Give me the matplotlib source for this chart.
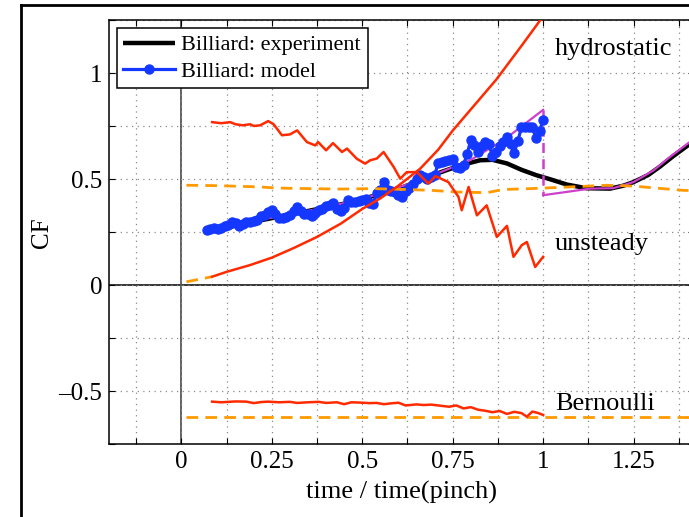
import matplotlib
matplotlib.use("Agg")
import matplotlib.pyplot as plt
from matplotlib.lines import Line2D

plt.rcParams["font.family"] = ["Liberation Serif", "DejaVu Serif"]
plt.rcParams["mathtext.fontset"] = "stix"

RED = "#FF2A00"
ORANGE = "#FF9A00"
BLUE = "#1438FF"
MAGENTA = "#CC40CC"

# --- force components (time normalised by pinch time) ---
hydro_t = [0.085, 0.125, 0.19, 0.25, 0.31, 0.375, 0.44, 0.5, 0.55, 0.60, 0.66, 0.71,
           0.75, 0.81, 0.87, 0.94, 1.0]
hydro_cf = [0.04, 0.063, 0.095, 0.13, 0.175, 0.228, 0.29, 0.36, 0.41, 0.47, 0.55, 0.64,
            0.73, 0.85, 0.97, 1.13, 1.27]
hydro_lead_t = [0.014, 0.085]
hydro_lead_cf = [0.016, 0.04]

unsteady_t = [0.085, 0.11, 0.135, 0.15, 0.17, 0.19, 0.20, 0.218, 0.24, 0.255, 0.278, 0.30,
              0.32, 0.347, 0.37, 0.378, 0.40, 0.419, 0.444, 0.458, 0.485, 0.508, 0.522,
              0.54, 0.559, 0.587, 0.605, 0.623, 0.651, 0.683, 0.702, 0.738, 0.766, 0.775,
              0.794, 0.817, 0.844, 0.872, 0.90, 0.918, 0.941, 0.955, 0.978, 1.0]
unsteady_cf = [0.77, 0.765, 0.77, 0.76, 0.755, 0.76, 0.752, 0.755, 0.775, 0.76, 0.708,
               0.712, 0.731, 0.676, 0.66, 0.676, 0.637, 0.671, 0.629, 0.645, 0.597, 0.574,
               0.59, 0.598, 0.629, 0.558, 0.503, 0.534, 0.534, 0.48, 0.515, 0.487, 0.417,
               0.354, 0.464, 0.33, 0.377, 0.228, 0.28, 0.134, 0.189, 0.204, 0.086, 0.134]

bern_t = [0.085, 0.11, 0.13, 0.15, 0.18, 0.2, 0.22, 0.24, 0.27, 0.3, 0.32, 0.35, 0.38,
          0.4, 0.43, 0.45, 0.47, 0.5, 0.52, 0.54, 0.56, 0.58, 0.6, 0.62, 0.65, 0.67, 0.69,
          0.72, 0.74, 0.76, 0.78, 0.8, 0.82, 0.84, 0.86, 0.88, 0.9, 0.92, 0.94, 0.955,
          0.97, 0.985, 1.0]
bern_cf = [-0.55, -0.553, -0.551, -0.549, -0.55, -0.557, -0.552, -0.55, -0.553, -0.551,
           -0.556, -0.553, -0.551, -0.556, -0.553, -0.562, -0.553, -0.555, -0.557, -0.556,
           -0.562, -0.558, -0.555, -0.568, -0.563, -0.566, -0.564, -0.57, -0.574, -0.568,
           -0.582, -0.576, -0.588, -0.593, -0.6, -0.594, -0.608, -0.598, -0.604, -0.621,
           -0.597, -0.603, -0.613]

base_t = [0.014, 0.1, 0.218, 0.26, 0.35, 0.44, 0.53, 0.62, 0.69, 0.76, 0.845, 0.89, 0.964,
          1.02, 1.1, 1.176, 1.25, 1.33, 1.387, 1.42]
base_cf = [0.472, 0.47, 0.464, 0.459, 0.456, 0.454, 0.456, 0.452, 0.448, 0.44, 0.437, 0.452,
           0.456, 0.46, 0.466, 0.472, 0.468, 0.456, 0.448, 0.446]

bern_base_t = [0.014, 1.42]
bern_base_cf = [-0.621, -0.621]

# --- billiard experiment and model ---
exp_t = [0.07, 0.2, 0.32, 0.45, 0.55, 0.614, 0.706, 0.771, 0.826, 0.86, 0.90, 0.94,
         0.982, 1.02, 1.066, 1.12, 1.185, 1.222, 1.25, 1.29, 1.323, 1.36, 1.42]
exp_cf = [0.25, 0.3, 0.34, 0.385, 0.43, 0.464, 0.527, 0.566, 0.59, 0.592, 0.575, 0.545,
          0.519, 0.5, 0.475, 0.458, 0.456, 0.47, 0.487, 0.52, 0.56, 0.61, 0.685]

fit_t = [0.066, 0.237, 0.384, 0.504, 0.66, 0.798, 0.89, 1.0]
fit_cf = [0.251, 0.315, 0.362, 0.409, 0.495, 0.59, 0.684, 0.828]
fit_jump_cf = [0.828, 0.425]
fit2_t = [1.0, 1.13, 1.194, 1.25, 1.305, 1.35, 1.42]
fit2_cf = [0.425, 0.456, 0.458, 0.487, 0.542, 0.605, 0.695]

model_t = [0.07, 0.08, 0.09, 0.10, 0.11, 0.12, 0.13, 0.14, 0.15, 0.16, 0.17, 0.18, 0.19,
           0.20, 0.21, 0.22, 0.23, 0.24, 0.25, 0.26, 0.27, 0.28, 0.29, 0.30, 0.31, 0.32,
           0.33, 0.34, 0.35, 0.36, 0.37, 0.38, 0.39, 0.40, 0.41, 0.42, 0.43, 0.44, 0.45,
           0.46, 0.47, 0.48, 0.49, 0.50, 0.51, 0.52, 0.53, 0.54, 0.55, 0.56, 0.57, 0.58,
           0.59, 0.60, 0.61, 0.62, 0.63, 0.64, 0.65, 0.66, 0.67, 0.68, 0.69, 0.70, 0.71,
           0.72, 0.73, 0.74, 0.75, 0.76, 0.77, 0.78, 0.79, 0.80, 0.81, 0.82, 0.83, 0.84,
           0.85, 0.86, 0.87, 0.88, 0.89, 0.90, 0.91, 0.92, 0.93, 0.94, 0.95, 0.96, 0.97,
           0.98, 0.99, 1.00]
model_cf = [0.262, 0.265, 0.268, 0.265, 0.272, 0.28, 0.285, 0.30, 0.295, 0.278, 0.29, 0.30,
            0.298, 0.302, 0.31, 0.325, 0.33, 0.345, 0.355, 0.335, 0.318, 0.315, 0.322, 0.33,
            0.35, 0.368, 0.352, 0.338, 0.335, 0.325, 0.34, 0.355, 0.36, 0.372, 0.38, 0.388,
            0.36, 0.352, 0.365, 0.40, 0.395, 0.392, 0.398, 0.40, 0.405, 0.39, 0.385, 0.435,
            0.45, 0.487, 0.45, 0.445, 0.44, 0.425, 0.418, 0.445, 0.46, 0.478, 0.50, 0.52,
            0.51, 0.503, 0.51, 0.52, 0.575, 0.58, 0.588, 0.592, 0.597, 0.56, 0.552, 0.568,
            0.62, 0.685, 0.66, 0.628, 0.655, 0.675, 0.665, 0.61, 0.63, 0.655, 0.675, 0.70,
            0.665, 0.625, 0.68, 0.745, 0.748, 0.745, 0.745, 0.695, 0.73, 0.778]

x_ticks = [-0.125, 0, 0.125, 0.25, 0.375, 0.5, 0.625, 0.75, 0.875, 1.0, 1.125, 1.25, 1.375]
x_labels = ["", "0", "", "0.25", "", "0.5", "", "0.75", "", "1", "", "1.25", ""]
y_ticks = [-0.75, -0.5, -0.25, 0, 0.25, 0.5, 0.75, 1.0, 1.25]
y_labels = ["", "\u20130.5", "", "0", "", "0.5", "", "1", ""]

W, H = 689, 517
fig = plt.figure(figsize=(W / 100, H / 100), dpi=100)
ax = fig.add_axes([109 / W, 73 / H, (694 - 109) / W, (444 - 20.5) / H])
ax.set_xlim(-0.2, 1.417)
ax.set_ylim(-0.75, 1.25)

ax.set_xticks(x_ticks)
ax.set_xticklabels(x_labels)
ax.set_yticks(y_ticks)
ax.set_yticklabels(y_labels)
ax.tick_params(direction="in", top=True, right=True, length=4, width=0.8,
               labelsize=18, pad=5)
ax.grid(True, color="#8a8a8a", linestyle=(0, (1, 3.5)), linewidth=0.9)
for s in ax.spines.values():
    s.set_linewidth(1.1)

ax.axhline(0, color="black", lw=1.1, zorder=1.5)
ax.axvline(0, color="#555555", lw=1.3, zorder=1.5)

# experiment / model
ax.plot(exp_t, exp_cf, color="black", lw=3.2, solid_capstyle="butt", zorder=3,
        label="Billiard: experiment")
ax.plot(fit_t, fit_cf, color=MAGENTA, lw=1.6, zorder=3.2)
ax.plot([1.0, 1.0], fit_jump_cf, color=MAGENTA, lw=1.8, dashes=(4, 2.5), zorder=3.2)
ax.plot(fit2_t, fit2_cf, color=MAGENTA, lw=1.6, zorder=3.2)
ax.plot(model_t, model_cf, color=BLUE, lw=2.3, marker="o", markersize=6.5,
        zorder=3.4, label="Billiard: model")

# components
dash = dict(dashes=(4.2, 2.6), lw=2.0, color=ORANGE, zorder=4)
ax.plot(hydro_lead_t, hydro_lead_cf, **dash)
ax.plot(base_t, base_cf, **dash)
ax.plot(bern_base_t, bern_base_cf, **dash)
ax.plot(hydro_t, hydro_cf, color=RED, lw=1.8, zorder=4.2)
ax.plot(unsteady_t, unsteady_cf, color=RED, lw=1.8, zorder=4.2)
ax.plot(bern_t, bern_cf, color=RED, lw=1.8, zorder=4.2)

ax.text(1.033, 1.085, "hydrostatic", fontsize=19, va="baseline", zorder=5)
ax.text(1.033, 0.165, "unsteady", fontsize=19, va="baseline", zorder=5)
ax.text(1.033, -0.59, "Bernoulli", fontsize=19, va="baseline", zorder=5)

ax.set_xlabel("time / time(pinch)", fontsize=19, labelpad=6)
ax.set_ylabel("CF", fontsize=18, labelpad=4)

leg = ax.legend(loc="upper left", fontsize=16, frameon=True, fancybox=False,
                borderaxespad=0.35, borderpad=0.3, handlelength=2.3,
                handletextpad=0.3, labelspacing=0.25, framealpha=1)
leg.get_frame().set_edgecolor("black")
leg.get_frame().set_linewidth(1.1)

# outer frame of the panel
fig.add_artist(Line2D([21 / W, 21 / W], [1 - 5 / H, -0.1], color="black", lw=2.0,
                      transform=fig.transFigure))
fig.add_artist(Line2D([21 / W, 1.1], [1 - 5 / H, 1 - 5 / H], color="black", lw=2.0,
                      transform=fig.transFigure))

fig.savefig("out.png", dpi=100)
